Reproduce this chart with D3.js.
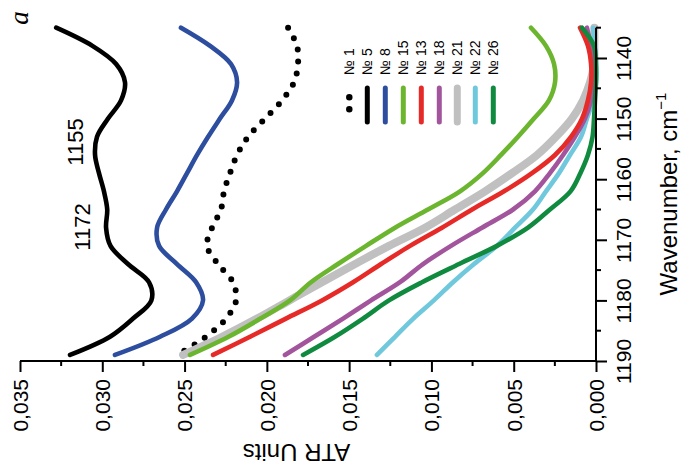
<!DOCTYPE html>
<html>
<head>
<meta charset="utf-8">
<script src="https://cdn.jsdelivr.net/npm/d3@7"></script>
<style>
  html, body { margin: 0; padding: 0; background: #fff; }
  svg { display: block; font-family: "Liberation Sans", Arial, Helvetica, sans-serif; }
</style>
</head>
<body>
<svg id="chart" width="685" height="466"></svg>
<script>
// Wavenumber grid (cm^-1) shared by all spectra
const wavenumbers = [1135, 1138, 1141, 1144, 1147, 1150, 1153, 1156, 1159, 1162,
                     1165, 1168, 1171, 1174, 1177, 1180, 1183, 1186, 1189];

// ATR absorbance of each sample on that grid
const sample1  = [0.01871, 0.01817, 0.01811, 0.01835, 0.01908, 0.02011, 0.02114, 0.02181, 0.02224, 0.02260,
                  0.02279, 0.02333, 0.02364, 0.02297, 0.02206, 0.02187, 0.02248, 0.02370, 0.02546];
const sample5  = [0.03280, 0.03060, 0.02916, 0.02862, 0.02886, 0.02965, 0.03032, 0.03044, 0.03020, 0.02990,
                  0.02970, 0.02977, 0.02950, 0.02844, 0.02716, 0.02702, 0.02813, 0.02953, 0.03196];
const sample8  = [0.02522, 0.02345, 0.02218, 0.02181, 0.02212, 0.02285, 0.02357, 0.02424, 0.02485, 0.02546,
                  0.02613, 0.02667, 0.02655, 0.02546, 0.02430, 0.02388, 0.02455, 0.02649, 0.02923];
const sample15 = [0.00395, 0.00304, 0.00255, 0.00249, 0.00286, 0.00377, 0.00474, 0.00577, 0.00687, 0.00826,
                  0.01021, 0.01221, 0.01397, 0.01568, 0.01732, 0.01859, 0.02039, 0.02233, 0.02467];
const sample13 = [0.00097, 0.00049, 0.00030, 0.00030, 0.00049, 0.00085, 0.00152, 0.00249, 0.00389, 0.00559,
                  0.00753, 0.00936, 0.01130, 0.01306, 0.01476, 0.01665, 0.01884, 0.02102, 0.02327];
const sample18 = [0.00055, 0.00030, 0.00012, 0.00012, 0.00030, 0.00067, 0.00128, 0.00200, 0.00280, 0.00371,
                  0.00504, 0.00693, 0.00881, 0.01051, 0.01191, 0.01367, 0.01537, 0.01713, 0.01890];
const sample21 = [0.00010, 0.00010, 0.00012, 0.00036, 0.00079, 0.00146, 0.00243, 0.00358, 0.00510, 0.00674,
                  0.00857, 0.01039, 0.01258, 0.01464, 0.01665, 0.01863, 0.02060, 0.02272, 0.02509];
const sample22 = [0.00018, 0.00006, 0.00000, 0.00000, 0.00018, 0.00055, 0.00091, 0.00158, 0.00225, 0.00304,
                  0.00383, 0.00492, 0.00602, 0.00741, 0.00869, 0.00985, 0.01110, 0.01221, 0.01331];
const sample26 = [0.00085, 0.00012, 0.00000, 0.00000, 0.00006, 0.00012, 0.00021, 0.00049, 0.00095, 0.00155,
                  0.00280, 0.00413, 0.00602, 0.00832, 0.01057, 0.01258, 0.01416, 0.01586, 0.01780];

// Axis ticks
const atrTicks = [0.035, 0.030, 0.025, 0.020, 0.015, 0.010, 0.005, 0.000];
const atrMinorTicks = [0.0325, 0.0275, 0.0225, 0.0175, 0.0125, 0.0075, 0.0025];
const wnTicks = [1140, 1150, 1160, 1170, 1180, 1190];
const wnMinorTicks = [1135, 1145, 1155, 1165, 1175, 1185];

// Legend entries in display order
const legendLabels = ["№ 1", "№ 5", "№ 8", "№ 15", "№ 13", "№ 18", "№ 21", "№ 22", "№ 26"];

// Peak annotations on sample 5
const peakLabels = ["1155", "1172"];

const series = [
  { name: "№ 1",  values: sample1,  color: "#000000", width: 6,   dotted: true },
  { name: "№ 5",  values: sample5,  color: "#000000", width: 4.6 },
  { name: "№ 8",  values: sample8,  color: "#2d4d9e", width: 4.6 },
  { name: "№ 21", values: sample21, color: "#c0c0c0", width: 8 },
  { name: "№ 22", values: sample22, color: "#6fc8dc", width: 4.6 },
  { name: "№ 18", values: sample18, color: "#a2559c", width: 4.6 },
  { name: "№ 13", values: sample13, color: "#e52a28", width: 4.6 },
  { name: "№ 15", values: sample15, color: "#6cb52f", width: 4.6 },
  { name: "№ 26", values: sample26, color: "#0f8a3f", width: 4.6 }
];

const svg = d3.select("#chart");

// Plot frame: ATR runs horizontally (decreasing to the right), wavenumber vertically
const plotLeft = 20, plotRight = 596, plotTop = 27.7, plotBottom = 361;
const x = d3.scaleLinear().domain([0.035, 0]).range([plotLeft, plotRight]);
const y = d3.scaleLinear().domain([1135, 1190]).range([plotTop, plotBottom]);

const fmt = v => d3.format(".3f")(v).replace(".", ",");

// Spectra
const line = d3.line()
  .x(d => x(d[1]))
  .y(d => y(d[0]))
  .curve(d3.curveCatmullRom.alpha(0.5));

svg.append("g").selectAll("path")
  .data(series)
  .join("path")
  .attr("d", s => line(wavenumbers.map((w, i) => [w, s.values[i]])))
  .attr("fill", "none")
  .attr("stroke", s => s.color)
  .attr("stroke-width", s => s.width)
  .attr("stroke-linecap", "round")
  .attr("stroke-linejoin", "round")
  .attr("stroke-dasharray", s => s.dotted ? "0 12" : null);

// ATR axis (bottom)
const xAxis = svg.append("g").attr("transform", `translate(0,${plotBottom})`);
xAxis.call(d3.axisBottom(x).tickValues(atrTicks).tickSize(11).tickSizeOuter(0).tickFormat(fmt));
xAxis.append("g").selectAll("line")
  .data(atrMinorTicks).join("line")
  .attr("x1", d => x(d)).attr("x2", d => x(d))
  .attr("y1", 0).attr("y2", 5)
  .attr("stroke", "#000").attr("stroke-width", 2);
xAxis.select(".domain").attr("stroke-width", 2).attr("d", `M${plotLeft},0H${plotRight}`);
xAxis.selectAll(".tick line").attr("stroke-width", 2);
xAxis.selectAll(".tick text")
  .attr("x", 0).attr("y", 0).attr("dy", "0.35em")
  .attr("text-anchor", "end")
  .attr("transform", "translate(0,18) rotate(-90)")
  .attr("font-size", 21).attr("fill", "#000")
  .style("font-family", "'Liberation Sans', Arial, sans-serif");

// Wavenumber axis (right)
const yAxis = svg.append("g").attr("transform", `translate(${plotRight},0)`);
yAxis.call(d3.axisRight(y).tickValues(wnTicks).tickSize(11).tickSizeOuter(0).tickFormat(d3.format("d")));
yAxis.append("g").selectAll("line")
  .data(wnMinorTicks).join("line")
  .attr("y1", d => y(d)).attr("y2", d => y(d))
  .attr("x1", 0).attr("x2", 5)
  .attr("stroke", "#000").attr("stroke-width", 2);
yAxis.select(".domain").attr("stroke-width", 2).attr("d", `M0,${plotTop}V${plotBottom}`);
yAxis.selectAll(".tick line").attr("stroke-width", 2);
yAxis.selectAll(".tick text")
  .attr("x", 0).attr("y", 0).attr("dy", "0.35em")
  .attr("text-anchor", "middle")
  .attr("transform", "translate(28,0) rotate(-90)")
  .attr("font-size", 21).attr("fill", "#000")
  .style("font-family", "'Liberation Sans', Arial, sans-serif");

// Axis titles
svg.append("text")
  .attr("transform", "translate(296.5,444) rotate(180)")
  .attr("text-anchor", "middle")
  .attr("font-size", 24)
  .text("ATR Units");

const wnTitle = svg.append("text")
  .attr("transform", "translate(677,194) rotate(-90)")
  .attr("text-anchor", "middle")
  .attr("font-size", 24);
wnTitle.append("tspan").text("Wavenumber, cm");
wnTitle.append("tspan").attr("font-size", 15).attr("dy", "-0.75em").text("−1");

// Panel letter
svg.append("text")
  .attr("transform", "translate(21,18) rotate(-90)")
  .attr("text-anchor", "middle")
  .attr("dy", "0.25em")
  .attr("font-size", 27)
  .attr("font-style", "italic")
  .style("font-family", "'Liberation Serif', 'Times New Roman', serif")
  .text("a");

// Peak annotations
const peakPos = [[75, 142], [82.5, 227]];
svg.append("g").selectAll("text")
  .data(peakLabels).join("text")
  .attr("transform", (d, i) => `translate(${peakPos[i][0]},${peakPos[i][1]}) rotate(-90)`)
  .attr("text-anchor", "middle")
  .attr("dy", "0.35em")
  .attr("font-size", 22)
  .text(d => d);

// Legend
const lx = d3.scalePoint().domain(legendLabels).range([349.3, 493.3]);
const legend = svg.append("g");
legend.selectAll("text")
  .data(legendLabels).join("text")
  .attr("transform", d => `translate(${lx(d)},75) rotate(-90)`)
  .attr("dy", "0.35em")
  .attr("font-size", 14)
  .text(d => d);
legend.selectAll("line")
  .data(legendLabels).join("line")
  .attr("x1", d => lx(d)).attr("x2", d => lx(d))
  .attr("y1", d => d === "№ 1" ? 97.3 : 88)
  .attr("y2", d => d === "№ 1" ? 121.3 : 122)
  .attr("stroke", d => series.find(s => s.name === d).color)
  .attr("stroke-width", d => d === "№ 1" ? 6.5 : (d === "№ 21" ? 7 : 5))
  .attr("stroke-linecap", "round")
  .attr("stroke-dasharray", d => d === "№ 1" ? "0 12" : null);
</script>
</body>
</html>
